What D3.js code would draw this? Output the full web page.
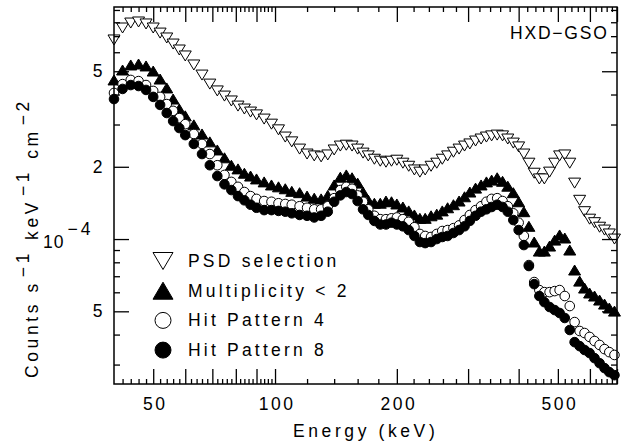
<!DOCTYPE html>
<html>
<head>
<meta charset="utf-8">
<script src="https://cdn.jsdelivr.net/npm/d3@7"></script>
<style>
  body { margin: 0; background: #fff; }
  text { font-family: "Liberation Sans", Arial, sans-serif; fill: #000; }
</style>
</head>
<body>
<div id="chart"></div>
<script>
// energy bins (keV)
var energy = [40,42,44,46,48,50,52,54,56,58,60,63,66,69,72,75,78,81,84,87,90,94,98,102,106,110,
  115,120,125,130,135,140,145,150,155,160,165,170,176,182,188,194,200,207,214,221,228,235,
  243,251,259,267,276,285,294,303,313,323,333,343,354,365,376,388,400,412,424,437,450,463,
  477,491,505,520,535,550,566,582,599,616,634,652,670,690]

// counts s^-1 keV^-1 cm^-2, in units of 1e-4
var psdSelection = [6.75,7.57,7.94,8.02,7.87,7.57,7.21,6.88,6.49,6.13,5.79,
  5.31,4.82,4.42,4.14,3.94,3.76,3.58,3.48,3.38,3.29,
  3.16,3.01,2.85,2.66,2.54,
  2.37,2.26,2.22,2.20,2.24,2.35,2.44,2.46,2.44,2.37,2.28,2.22,
  2.15,2.11,2.09,2.11,2.13,
  2.07,2.01,1.94,1.90,1.94,
  2.01,2.07,2.15,2.22,
  2.30,2.37,2.44,2.49,
  2.56,2.61,2.66,2.69,
  2.71,2.69,2.61,2.51,2.42,
  2.26,2.07,1.88,1.78,1.78,1.90,2.07,2.22,
  2.24,2.07,1.71,1.45,1.30,1.21,1.17,1.12,1.09,1.05,1.00]

var multiplicity = [4.60,5.06,5.31,5.36,5.26,5.01,4.64,4.26,3.83,3.48,3.26,
  2.99,2.74,2.54,2.35,2.18,2.03,1.96,1.88,1.83,1.78,
  1.73,1.68,1.65,1.62,1.58,
  1.56,1.51,1.48,1.47,1.52,1.68,1.81,1.85,1.80,1.71,1.57,1.45,
  1.41,1.41,1.44,1.43,1.40,
  1.36,1.31,1.26,1.22,1.22,
  1.25,1.27,1.31,1.35,
  1.39,1.44,1.50,1.57,
  1.63,1.68,1.73,1.76,
  1.80,1.74,1.66,1.56,1.43,
  1.30,1.13,0.972,0.891,0.891,0.935,0.990,1.04,
  1.01,0.900,0.743,0.668,0.625,0.596,0.579,0.557,0.536,0.516,0.501]

var hitPattern4 = [4.06,4.42,4.60,4.55,4.38,4.14,3.91,3.65,3.42,3.19,3.01,
  2.74,2.49,2.26,2.03,1.85,1.73,1.65,1.57,1.51,1.47,
  1.44,1.43,1.41,1.40,1.39,
  1.37,1.35,1.33,1.33,1.37,1.48,1.60,1.65,1.62,1.52,1.43,1.33,
  1.25,1.21,1.21,1.22,1.23,
  1.21,1.18,1.12,1.05,1.03,
  1.02,1.05,1.08,1.09,
  1.11,1.14,1.20,1.26,
  1.32,1.37,1.43,1.47,
  1.48,1.44,1.37,1.28,1.17,
  1.03,0.779,0.662,0.613,0.601,0.601,0.607,0.613,
  0.579,0.526,0.451,0.414,0.406,0.391,0.376,0.362,0.348,0.338,0.329]

var hitPattern8 = [3.83,4.22,4.38,4.34,4.18,3.91,3.62,3.35,3.10,2.90,2.71,
  2.49,2.26,2.03,1.83,1.69,1.60,1.51,1.45,1.39,1.35,
  1.32,1.32,1.31,1.30,1.28,
  1.26,1.25,1.23,1.25,1.30,1.43,1.52,1.57,1.54,1.44,1.33,1.26,
  1.19,1.15,1.15,1.17,1.15,
  1.13,1.09,1.03,0.972,0.962,
  0.972,1.00,1.02,1.03,
  1.06,1.09,1.13,1.19,
  1.25,1.30,1.33,1.36,
  1.39,1.36,1.30,1.20,1.09,
  0.944,0.772,0.649,0.579,0.546,0.521,0.506,0.492,
  0.469,0.418,0.372,0.358,0.345,0.335,0.319,0.304,0.290,0.279,0.271]

var UNIT = 1e-4

var legendLabels = ["PSD selection", "Multiplicity < 2", "Hit Pattern 4", "Hit Pattern 8"]

var xMajorTicks = [50,60,70,80,90,100,200,300,400,500,600,700]
var xMinorTicks = [42,44,46,48,52,54,56,58,62,64,66,68,72,74,76,78,82,84,86,88,92,94,96,98,
  120,140,160,180,220,240,260,280,320,340,360,380,420,440,460,480,520,540,560,580,620,640,660,680]
var xTickLabels = [50,100,200,500]

var yMajorTicks = [5e-5,1e-4,2e-4,5e-4]
var yTickText = ["5","10","2","5"]
var yTickSup = ["","\u22124","",""]
var yMinorTicks = [3e-5,4e-5,6e-5,7e-5,8e-5,9e-5,3e-4,4e-4,6e-4,7e-4,8e-4,9e-4]

var width = 624, height = 447
var plot = { left: 114, right: 617, top: 7, bottom: 384 }
var FONT = 17.5

var svg = d3.select("#chart").append("svg")
    .attr("width", width).attr("height", height)

var x = d3.scaleLog().domain([40, 700]).range([plot.left, plot.right])
var y = d3.scaleLog().domain([2.49e-5, 9.26e-4]).range([plot.bottom, plot.top])

function tri(w, h, up) {
    var s = up ? 1 : -1
    return "M" + (-w/2) + "," + (s*h/2) + "L" + (w/2) + "," + (s*h/2) + "L0," + (-s*h/2) + "Z"
}

var series = [
    { name: legendLabels[0], values: psdSelection, shape: "down", fill: "#fff" },
    { name: legendLabels[1], values: multiplicity, shape: "up", fill: "#000" },
    { name: legendLabels[2], values: hitPattern4, shape: "circle", fill: "#fff" },
    { name: legendLabels[3], values: hitPattern8, shape: "circle", fill: "#000" }
]

function drawMarker(g, shape, fill, big) {
    if (shape == "circle") {
        g.append("circle").attr("r", big ? 8 : 4.8)
            .attr("fill", fill).attr("stroke", "#000").attr("stroke-width", 1)
    } else {
        var w = big ? 20 : 12, h = big ? 17 : 10
        g.append("path").attr("d", tri(w, h, shape == "up"))
            .attr("fill", fill).attr("stroke", "#000").attr("stroke-width", 1)
    }
}

// data points
series.forEach(function(s) {
    var layer = svg.append("g").attr("class", "series")
    energy.forEach(function(e, i) {
        var g = layer.append("g")
            .attr("transform", "translate(" + x(e) + "," + y(s.values[i] * UNIT) + ")")
        drawMarker(g, s.shape, s.fill, false)
    })
})

// axes: major / minor ticks on all four sides, ticks pointing inward
function styleAxis(g) {
    g.select(".domain").remove()
    g.selectAll(".tick line").attr("stroke", "#000").attr("stroke-width", 1.3)
    g.selectAll(".tick text").attr("font-size", FONT).attr("letter-spacing", 2.5)
}

var xb = svg.append("g").attr("transform", "translate(0," + plot.bottom + ")")
    .call(d3.axisBottom(x).tickValues(xMajorTicks).tickSize(-15).tickPadding(14)
        .tickFormat(function(d) { return xTickLabels.indexOf(d) >= 0 ? d : "" }))
styleAxis(xb)
xb.selectAll(".tick text").attr("dx", 1.5)
svg.append("g").attr("transform", "translate(0," + plot.bottom + ")")
    .call(d3.axisBottom(x).tickValues(xMinorTicks).tickSize(-5).tickFormat("")).call(styleAxis)
svg.append("g").attr("transform", "translate(0," + plot.top + ")")
    .call(d3.axisTop(x).tickValues(xMajorTicks).tickSize(-15).tickFormat("")).call(styleAxis)
svg.append("g").attr("transform", "translate(0," + plot.top + ")")
    .call(d3.axisTop(x).tickValues(xMinorTicks).tickSize(-5).tickFormat("")).call(styleAxis)

var yl = svg.append("g").attr("transform", "translate(" + plot.left + ",0)")
    .call(d3.axisLeft(y).tickValues(yMajorTicks).tickSize(-15).tickPadding(9).tickFormat(""))
styleAxis(yl)
yl.selectAll(".tick text").each(function(d, i) {
    var t = d3.select(this)
    t.append("tspan").text(yTickText[i])
    if (yTickSup[i]) {
        t.attr("text-anchor", "start").attr("x", -71).attr("dy", "8").attr("letter-spacing", 1)
        t.append("tspan").attr("dx", 3).attr("dy", -13).attr("letter-spacing", 3).text(yTickSup[i])
    }
})
svg.append("g").attr("transform", "translate(" + plot.left + ",0)")
    .call(d3.axisLeft(y).tickValues(yMinorTicks).tickSize(-6).tickFormat("")).call(styleAxis)
svg.append("g").attr("transform", "translate(" + plot.right + ",0)")
    .call(d3.axisRight(y).tickValues(yMajorTicks).tickSize(-15).tickFormat("")).call(styleAxis)
svg.append("g").attr("transform", "translate(" + plot.right + ",0)")
    .call(d3.axisRight(y).tickValues(yMinorTicks).tickSize(-6).tickFormat("")).call(styleAxis)

// frame
svg.append("rect")
    .attr("x", plot.left).attr("y", plot.top)
    .attr("width", plot.right - plot.left).attr("height", plot.bottom - plot.top)
    .attr("fill", "none").attr("stroke", "#000").attr("stroke-width", 1.5)

// axis titles
svg.append("text")
    .attr("x", 293).attr("y", 437)
    .attr("font-size", FONT).attr("letter-spacing", 3.6)
    .text("Energy (keV)")

var yt = svg.append("text")
    .attr("transform", "translate(38,378) rotate(-90)")
    .attr("font-size", FONT).attr("letter-spacing", 3.6)
var yParts = [["Counts s", 0, 0], ["\u22121", -9, 3], ["keV", 9, 10], ["\u22121", -9, 3], ["cm", 9, 10], ["\u22122", -9, 3]]
yParts.forEach(function(p) {
    yt.append("tspan").attr("dy", p[1]).attr("dx", p[2]).text(p[0])
})

svg.append("text")
    .attr("x", 510).attr("y", 39)
    .attr("font-size", FONT).attr("letter-spacing", 1.8)
    .text("HXD\u2212GSO")

// legend
var legend = svg.append("g")
series.forEach(function(s, i) {
    var row = legend.append("g").attr("transform", "translate(163," + (261 + i * 29.7) + ")")
    drawMarker(row, s.shape, s.fill, true)
    row.append("text").attr("x", 25).attr("y", 6)
        .attr("font-size", FONT).attr("letter-spacing", 3.2)
        .text(s.name)
})
</script>
</body>
</html>
